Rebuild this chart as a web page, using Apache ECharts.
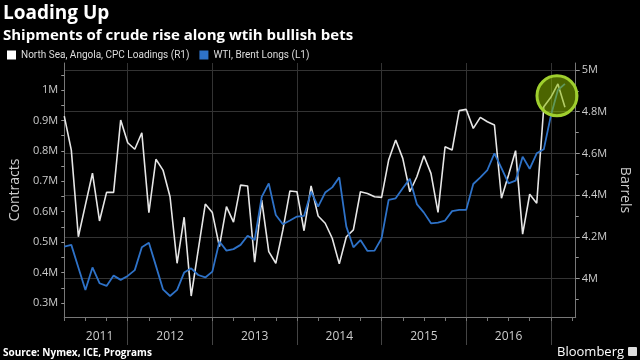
<!DOCTYPE html>
<html><head><meta charset="utf-8">
<script src="https://cdn.jsdelivr.net/npm/echarts@6/dist/echarts.min.js"></script>
<style>html,body{margin:0;padding:0;background:#000;}#c{width:640px;height:360px;}</style>
</head><body><div id="c"></div><script>
// x positions: months counted from Jan 2011 (0 = Jan 2011); data starts April 2011
const startMonth = 3;
const yearDividers = [12, 24, 36, 48, 60, 72];
const yearLabelPos = [8, 18, 30, 42, 54, 66];
const quarterTicks = [3,6,9,12,15,18,21,24,27,30,33,36,39,42,45,48,51,54,57,60,63,66,69,72,75];
const leftLabels = [0.3, 0.4, 0.5, 0.6, 0.7, 0.8, 0.9, 1];
const leftTicks = [0.3,0.35,0.4,0.45,0.5,0.55,0.6,0.65,0.7,0.75,0.8,0.85,0.9,0.95,1,1.05];
const rightLabels = [4, 4.2, 4.4, 4.6, 4.8, 5];
const rightMinorTicks = [3.9, 4.1, 4.3, 4.5, 4.7, 4.9];

// North Sea, Angola, CPC Loadings (million barrels), monthly Apr 2011 - Mar 2017
const loadings = [4.779,4.616,4.200,4.353,4.505,4.276,4.413,4.413,4.760,4.651,
  4.620,4.699,4.316,4.572,4.520,4.392,4.073,4.294,3.916,4.137,
  4.357,4.316,4.153,4.345,4.270,4.448,4.444,4.078,4.376,4.129,
  4.073,4.233,4.420,4.416,4.229,4.444,4.300,4.265,4.193,4.070,
  4.200,4.233,4.416,4.408,4.392,4.389,4.568,4.664,4.576,4.416,
  4.488,4.589,4.504,4.317,4.632,4.616,4.805,4.811,4.720,4.773,
  4.752,4.736,4.385,4.496,4.613,4.213,4.404,4.361,4.824,4.869,
  4.933,4.821];
// WTI, Brent Longs (million contracts)
const longs = [0.485,0.491,0.417,0.343,0.417,0.365,0.356,0.390,0.376,0.389,
  0.408,0.483,0.498,0.422,0.345,0.323,0.343,0.400,0.414,0.392,
  0.384,0.403,0.502,0.472,0.477,0.491,0.521,0.507,0.649,0.693,
  0.589,0.559,0.571,0.584,0.586,0.666,0.617,0.663,0.680,0.713,
  0.551,0.483,0.507,0.471,0.472,0.513,0.639,0.644,0.677,0.708,
  0.625,0.597,0.562,0.564,0.571,0.602,0.606,0.606,0.691,0.713,
  0.737,0.792,0.743,0.693,0.702,0.781,0.741,0.792,0.805,0.915,
  1.000,1.020];
const highlight = [72.87, 0.981];

const FONT = 'Open Sans';
const xMin = 3, xMax = 75.53;
const lMin = 0.254, lMax = 1.0887;
const rMin = 3.8153, rMax = 5.0336;

const chart = echarts.init(document.getElementById('c'));
chart.setOption({
  backgroundColor: '#000',
  animation: false,
  textStyle: { fontFamily: FONT },
  title: [
    { text: 'Loading Up', subtext: 'Shipments of crude rise along wtih bullish bets',
      left: 1, top: 3, padding: [1, 2], itemGap: 5,
      textStyle: { color: '#fff', fontSize: 19, fontWeight: 'bold', fontFamily: FONT },
      subtextStyle: { color: '#fff', fontSize: 15, fontWeight: 'bold', fontFamily: FONT } },
    { text: 'Source: Nymex, ICE, Programs', left: 3, bottom: 2, padding: 0,
      textStyle: { color: '#fff', fontSize: 10, fontWeight: 'bold', fontFamily: FONT } },
    { text: 'Bloomberg', right: 16, bottom: 1, padding: 0,
      textStyle: { color: '#fff', fontSize: 13, fontWeight: 'normal', fontFamily: FONT } }
  ],
  graphic: [{ type: 'rect', right: 3, bottom: 4, shape: { width: 9, height: 9, r: 1 },
    style: { fill: '#ddd' } }],
  legend: {
    left: 2, top: 45, icon: 'rect', itemWidth: 9, itemHeight: 9, itemGap: 10,
    textStyle: { color: '#ddd', fontSize: 10, fontFamily: 'Roboto' },
    data: ['North Sea, Angola, CPC Loadings (R1)', 'WTI, Brent Longs (L1)']
  },
  grid: { left: 48, right: 48, top: 63, bottom: 43 },
  xAxis: [
    { type: 'value', min: xMin, max: xMax, position: 'bottom',
      axisLine: { show: true, lineStyle: { color: '#777', width: 1 } },
      axisTick: { show: true, customValues: yearDividers, length: 28, lineStyle: { color: '#444' } },
      axisLabel: { customValues: yearLabelPos, color: '#ccc', fontSize: 12, margin: 14,
        formatter: v => String(2011 + Math.floor(v / 12)) },
      splitLine: { show: true, lineStyle: { color: '#333', width: 1 } } },
    { type: 'value', min: xMin, max: xMax, position: 'bottom', offset: 0,
      axisLine: { show: false },
      axisTick: { show: true, customValues: quarterTicks, length: 4, lineStyle: { color: '#777' } },
      axisLabel: { show: false }, splitLine: { show: false } }
  ],
  yAxis: [
    { type: 'value', min: lMin, max: lMax, position: 'left',
      name: 'Contracts', nameLocation: 'middle', nameGap: 37, nameRotate: 90,
      nameTextStyle: { color: '#ccc', fontSize: 14, fontFamily: FONT },
      axisLine: { show: true, lineStyle: { color: '#777' } },
      axisTick: { show: true, customValues: leftTicks, length: 3, lineStyle: { color: '#999' } },
      axisLabel: { customValues: leftLabels, color: '#ccc', fontSize: 11, margin: 6,
        formatter: v => v + 'M' },
      splitLine: { show: false } },
    { type: 'value', min: rMin, max: rMax, position: 'right',
      name: 'Barrels', nameLocation: 'middle', nameGap: 34, nameRotate: -90,
      nameTextStyle: { color: '#ccc', fontSize: 14, fontFamily: FONT },
      axisLine: { show: true, lineStyle: { color: '#777' } },
      axisTick: { show: true, customValues: rightLabels, length: 4, lineStyle: { color: '#999' } },
      axisLabel: { customValues: rightLabels, color: '#ccc', fontSize: 11, margin: 6,
        formatter: v => v + 'M' },
      splitLine: { show: true, lineStyle: { color: '#333', width: 1 } } },
    { type: 'value', min: rMin, max: rMax, position: 'right', offset: 0,
      axisLine: { show: false },
      axisTick: { show: true, customValues: rightMinorTicks, length: 3, lineStyle: { color: '#999' } },
      axisLabel: { show: false }, splitLine: { show: false } }
  ],
  series: [
    { name: 'North Sea, Angola, CPC Loadings (R1)', type: 'line', xAxisIndex: 0, yAxisIndex: 1,
      data: loadings.map((v, i) => [startMonth + i, v]),
      showSymbol: false, symbol: 'none',
      itemStyle: { color: '#fff' }, lineStyle: { color: '#e6e6e6', width: 1.6 } },
    { name: 'WTI, Brent Longs (L1)', type: 'line', xAxisIndex: 0, yAxisIndex: 0,
      data: longs.map((v, i) => [startMonth + i, v]),
      showSymbol: false, symbol: 'none',
      itemStyle: { color: '#2e72c8' }, lineStyle: { color: '#2e72c8', width: 1.8 },
      markPoint: { symbol: 'circle', symbolSize: 40, silent: true,
        label: { show: false },
        itemStyle: { color: 'rgba(138,184,0,0.55)', borderColor: '#9fcf2e', borderWidth: 3 },
        data: [{ coord: highlight }] } }
  ]
});
</script></body></html>
